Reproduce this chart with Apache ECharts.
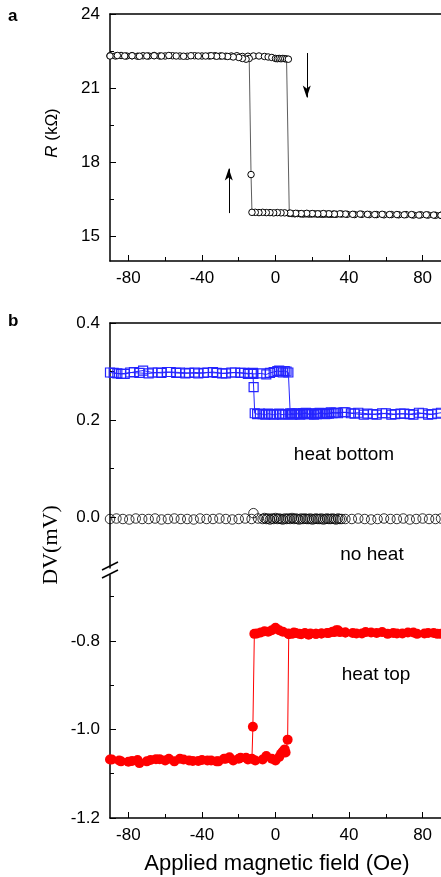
<!DOCTYPE html>
<html><head><meta charset="utf-8">
<script src="https://cdn.jsdelivr.net/npm/echarts@6/dist/echarts.min.js"></script>
<style>html,body{margin:0;padding:0;background:#fff}#c{width:441px;height:877px}</style>
</head><body><div id="c"></div>
<script>
// ---------- Panel a: R (kOhm) vs field ----------
const aFwdX = [-90,-87,-84,-81,-78,-75,-72,-69,-66,-63,-60,-56,-52,-48,-44,-40,-36,-33,-30,-27,-24,-21,-18,-15,-12,-9,-6,
  -4,-2,0,1,2,3,4,5,6,7,7.5,
  9,10.5,12,13.5,15,16.5,18,19.5,21,22.5,24,25.5,27,28.5,30,31.5,33,36,39,43,47,51,55,59,63,67,71,75,79,83,87,90];
const aFwdY = [22.31,22.30,22.32,22.30,22.31,22.29,22.31,22.30,22.32,22.30,22.30,22.31,22.30,22.29,22.31,22.30,22.30,22.31,22.30,22.29,22.30,22.31,22.28,22.29,22.30,22.30,22.28,
  22.26,22.24,22.20,22.19,22.20,22.19,22.20,22.19,22.18,22.17,15.93,
  15.92,15.91,15.92,15.91,15.90,15.91,15.90,15.90,15.91,15.90,15.90,15.89,15.90,15.90,15.89,15.90,15.89,15.90,15.89,15.88,15.89,15.88,15.88,15.87,15.88,15.87,15.88,15.86,15.87,15.86,15.85,15.85];
const aBwdX = [90,86,82,78,74,70,66,62,58,54,50,46,42,38,35,32,29,26,23,20,17,14,11,8,5,3,1,-1,-3,-5,-7,-9,-11,
  -12.8,-13.3,-14.3,-16,-18,-20,-23,-26,-29,-32,-35,-38,-42,-46,-50,-54,-58,-62,-66,-70,-74,-78,-82,-86,-90];
const aBwdY = [15.85,15.86,15.87,15.86,15.88,15.87,15.88,15.88,15.89,15.88,15.89,15.90,15.89,15.90,
  15.91,15.90,15.91,15.92,15.91,15.92,15.93,15.92,15.93,15.94,15.95,
  15.95,15.96,15.95,15.96,15.96,15.97,15.96,15.97,
  15.97,17.5,22.2,
  22.17,22.20,22.24,22.26,22.28,22.30,22.29,22.31,22.30,
  22.30,22.31,22.29,22.30,22.32,22.30,22.31,22.30,22.29,22.31,22.30,22.32,22.30];
const aXMajor = [-80,-40,0,40,80], aXMinor = [-60,-20,20,60];
const aYMajor = [15,18,21,24], aYMinor = [16.5,19.5,22.5];

// ---------- Panel b: heat bottom (blue squares) ----------
const bFwdX = [-90,-86,-82,-77,-72,-67,-62,-57,-52,-47,-42,-37,-32,-27,-22,-17,-12,
  -8,-5,-3,-1,1,2,3,4,5,6,7,8,
  9,10.5,12,13.5,15,16.5,18,19.5,21,22.5,24,26,28,30,32,34,
  38,43,48,53,58,63,68,73,78,83,88];
const bFwdY = [0.298,0.296,0.295,0.299,0.302,0.298,0.297,0.299,0.298,0.297,0.296,0.298,0.297,0.296,0.298,0.297,0.295,
  0.296,0.294,0.297,0.299,0.301,0.302,0.300,0.298,0.301,0.300,0.298,0.214,
  0.213,0.212,0.214,0.211,0.213,0.215,0.212,0.214,0.213,0.212,0.215,0.214,0.213,0.216,0.215,0.214,
  0.216,0.213,0.211,0.212,0.214,0.211,0.213,0.212,0.215,0.211,0.213];
const bBwdX = [90,85,80,75,70,65,60,55,50,45,41,37,33,
  31,29,27,25,23,21,19,17,15,13,11,9,7,
  5,3.5,2,0.5,-1,-2.5,-4,-5.5,-7,-8.5,-10,-11.3,-11.9,-12.3,
  -15,-19,-24,-29,-34,-39,-44,-49,-54,-59,-64,-69,-74,-79,-84,-88];
const bBwdY = [0.215,0.212,0.214,0.211,0.213,0.212,0.214,0.211,0.213,0.215,0.214,0.216,0.215,
  0.214,0.213,0.212,0.214,0.213,0.211,0.212,0.213,0.214,0.212,0.213,0.211,0.212,
  0.212,0.211,0.213,0.212,0.211,0.212,0.213,0.211,0.212,0.213,0.212,0.214,0.268,0.297,
  0.295,0.297,0.298,0.296,0.299,0.297,0.298,0.296,0.297,0.299,0.298,0.296,0.297,0.298,0.295,0.297];

// ---------- Panel b: no heat (black open circles) ----------
const nhX = [-90,-86.5,-83,-79.5,-76,-72.5,-69,-65.5,-62,-58.5,-55,-51.5,-48,-44.5,-41,-37.5,-34,-30.5,-27,-23.5,-20,-16.5,-13,
  -12,-9.5,-7,
  -6,-5,-4,-3,-2,-1,0,1,2,3,4,5,6,7,8,9,10,11,12,13,14,15,16,17,18,19,20,21,22,23,24,25,26,27,28,29,30,31,32,33,34,35,36,
  38,41.5,45,48.5,52,55.5,59,62.5,66,69.5,73,76.5,80,83.5,87,90];
const nhY = [-0.004,-0.003,-0.004,-0.005,-0.003,-0.004,-0.004,-0.003,-0.005,-0.004,-0.003,-0.004,-0.004,-0.005,-0.003,-0.004,-0.004,-0.003,-0.004,-0.005,-0.004,-0.003,-0.004,
  0.008,-0.003,-0.004,
  -0.002,-0.004,-0.003,-0.005,-0.003,-0.004,-0.002,-0.004,-0.003,-0.004,
  -0.005,-0.003,-0.004,-0.003,-0.004,-0.002,-0.004,-0.003,-0.004,-0.005,
  -0.003,-0.004,-0.003,-0.004,-0.004,-0.003,-0.005,-0.004,-0.003,-0.004,
  -0.004,-0.003,-0.005,-0.004,-0.003,-0.004,-0.004,-0.003,-0.004,-0.005,
  -0.003,-0.004,-0.004,
  -0.004,-0.004,-0.003,-0.004,-0.005,-0.004,-0.003,-0.004,-0.004,-0.003,-0.005,-0.004,-0.003,-0.004,-0.004,-0.003];

// ---------- Panel b: heat top (red filled circles) ----------
const tFwdX = [-89,-84,-78,-74,-68,-63,-58,-52,-47,-42,-37,-32,-28,-25,-20,-16,-11,-7,-5,-2,0,
  2,3,4,5,5.5,6.6,7.2,
  9,11,14,18,22,25,29,32,34,38,44,49,55,61,66,72,77,83,88];
const tFwdY = [-1.068,-1.072,-1.071,-1.076,-1.069,-1.067,-1.066,-1.066,-1.070,-1.071,-1.070,-1.072,-1.066,-1.063,-1.066,-1.064,-1.070,-1.068,-1.060,-1.066,-1.070,
  -1.062,-1.055,-1.050,-1.045,-1.052,-1.023,-0.785,
  -0.784,-0.782,-0.785,-0.786,-0.784,-0.783,-0.782,-0.780,-0.776,-0.781,-0.783,-0.780,-0.782,-0.784,-0.783,-0.781,-0.784,-0.782,-0.784];
const tBwdX = [90,86,81,75,69,64,58,52,47,42,38,
  35,33,31,28,25,22,19,16,13,10,7,4,2,0,-2,-4,-6,-8,-10,-11.5,
  -12.3,-12.8,
  -15,-19,-23,-27,-31,-35,-40,-45,-50,-55,-60,-65,-70,-75,-80,-85,-90];
const tBwdY = [-0.784,-0.782,-0.783,-0.781,-0.783,-0.782,-0.780,-0.781,-0.783,-0.782,-0.781,
  -0.780,-0.776,-0.779,-0.782,-0.783,-0.784,-0.783,-0.782,-0.784,-0.781,-0.783,-0.779,-0.776,-0.770,-0.776,-0.779,-0.778,-0.781,-0.783,-0.784,
  -0.994,-1.066,
  -1.068,-1.064,-1.070,-1.066,-1.072,-1.070,-1.069,-1.071,-1.068,-1.072,-1.070,-1.067,-1.072,-1.069,-1.073,-1.070,-1.068];

const bXMajor = [-80,-40,0,40,80], bXMinor = [-60,-20,20,60];
const bUpMajor = [0.0,0.2,0.4], bUpMinor = [0.1,0.3];
const bLoMajor = [-1.2,-1.0,-0.8], bLoMinor = [-1.1,-0.9,-0.7];

function pairs(xs, ys){ return xs.map((x,i)=>[x, ys[i]]); }

const F = '"Liberation Sans", Arial, sans-serif';
const TS = 17;
const BLACK = '#000';
const BLUE = '#2424ff';
const RED = '#ff0000';

function axis(kind, grid, min, max, pos, opts){
  const o = {
    type:'value', gridIndex:grid, min:min, max:max, position:pos,
    splitLine:{show:false},
    axisLine:{show: !!opts.line, onZero:false, lineStyle:{color:BLACK, width:1.5}},
    axisTick:{show: !!opts.ticks, inside:true, length: opts.len || 6, lineStyle:{color:BLACK, width:1}},
    axisLabel:{show: !!opts.labels, color:BLACK, fontFamily:F, fontSize:TS, margin: opts.margin || 9,
      formatter: opts.fmt || (v=>String(v))}
  };
  if (opts.ticks) o.axisTick.customValues = opts.ticks;
  if (opts.labels) o.axisLabel.customValues = opts.labels;
  return o;
}

const fmt1 = v => v.toFixed(1);
const fmt0 = v => String(Math.round(v));

const xAxes = [
  axis('x',0,-90,90,'bottom',{line:true, ticks:aXMajor, labels:aXMajor, len:6, margin:9, fmt:fmt0}),
  axis('x',0,-90,90,'bottom',{ticks:aXMinor, len:4}),
  axis('x',0,-90,90,'top',{line:true}),
  axis('x',1,-90,90,'top',{line:true}),
  axis('x',2,-90,90,'bottom',{line:true, ticks:bXMajor, labels:bXMajor, len:6, margin:9, fmt:fmt0}),
  axis('x',2,-90,90,'bottom',{ticks:bXMinor, len:4})
];
const yAxes = [
  axis('y',0,14,24,'left',{line:true, ticks:aYMajor, labels:aYMajor, len:6, margin:10, fmt:fmt0}),
  axis('y',0,14,24,'left',{ticks:aYMinor, len:4}),
  axis('y',1,-0.105,0.4,'left',{line:true, ticks:bUpMajor, labels:bUpMajor, len:6, margin:10, fmt:fmt1}),
  axis('y',1,-0.105,0.4,'left',{ticks:bUpMinor, len:4}),
  axis('y',2,-1.2,-0.651,'left',{line:true, ticks:bLoMajor, labels:bLoMajor, len:6, margin:10, fmt:fmt1}),
  axis('y',2,-1.2,-0.651,'left',{ticks:bLoMinor, len:4})
];

const openBlack = {color:'#fff', borderColor:BLACK, borderWidth:1};
const option = {
  animation:false,
  backgroundColor:'#fff',
  grid:[
    {left:110, top:14, width:334, height:247},
    {left:110, top:323, width:334, height:245},
    {left:110, top:575, width:334, height:243}
  ],
  xAxis:xAxes,
  yAxis:yAxes,
  series:[
    {type:'line', xAxisIndex:0, yAxisIndex:0, data:pairs(aFwdX,aFwdY), symbol:'circle', symbolSize:6.5, showAllSymbol:true,
      itemStyle:openBlack, lineStyle:{color:'#333', width:0.8}, z:3,
      markLine:{silent:true, symbol:['none','arrow'], symbolSize:[6,12], label:{show:false},
        lineStyle:{color:BLACK, width:1, type:'solid'},
        data:[ [{coord:[17,22.42]},{coord:[17,20.62]}], [{coord:[-25.4,15.94]},{coord:[-25.4,17.74]}] ]}},
    {type:'line', xAxisIndex:0, yAxisIndex:0, data:pairs(aBwdX,aBwdY), symbol:'circle', symbolSize:6.5, showAllSymbol:true,
      itemStyle:openBlack, lineStyle:{color:'#333', width:0.8}, z:3},
    {type:'line', xAxisIndex:3, yAxisIndex:2, data:pairs(bFwdX,bFwdY), symbol:'rect', symbolSize:9, showAllSymbol:true,
      itemStyle:{color:'rgba(255,255,255,0)', borderColor:BLUE, borderWidth:1.2}, lineStyle:{color:BLUE, width:1}},
    {type:'line', xAxisIndex:3, yAxisIndex:2, data:pairs(bBwdX,bBwdY), symbol:'rect', symbolSize:9, showAllSymbol:true,
      itemStyle:{color:'rgba(255,255,255,0)', borderColor:BLUE, borderWidth:1.2}, lineStyle:{color:BLUE, width:1}},
    {type:'scatter', xAxisIndex:3, yAxisIndex:2, data:pairs(nhX,nhY), symbol:'circle', symbolSize:9.5,
      itemStyle:{color:'rgba(255,255,255,0)', borderColor:BLACK, borderWidth:1}},
    {type:'line', xAxisIndex:4, yAxisIndex:4, data:pairs(tFwdX,tFwdY), symbol:'circle', symbolSize:10, showAllSymbol:true,
      itemStyle:{color:RED}, lineStyle:{color:RED, width:1}},
    {type:'line', xAxisIndex:4, yAxisIndex:4, data:pairs(tBwdX,tBwdY), symbol:'circle', symbolSize:10, showAllSymbol:true,
      itemStyle:{color:RED}, lineStyle:{color:RED, width:1}}
  ],
  graphic:[
    {type:'text', x:8, y:8, style:{text:'a', fontFamily:F, fontSize:17, fontWeight:'bold', fill:BLACK}},
    {type:'text', x:8, y:313, style:{text:'b', fontFamily:F, fontSize:17, fontWeight:'bold', fill:BLACK}},
    {type:'text', x:52, y:133, rotation:Math.PI/2,
      style:{text:'{i|R} (kΩ)', fontFamily:F, fontSize:17, fill:BLACK, align:'center', verticalAlign:'middle',
        rich:{i:{fontStyle:'italic', fontFamily:F, fontSize:17, fill:BLACK}}}},
    {type:'text', x:51, y:545, rotation:Math.PI/2,
      style:{text:'DV(mV)', fontFamily:'"Liberation Serif", "Times New Roman", serif', fontSize:22, fill:BLACK, align:'center', verticalAlign:'middle'}},
    {type:'text', x:344, y:455, style:{text:'heat bottom', fontFamily:F, fontSize:19, fill:BLACK, align:'center', verticalAlign:'middle'}},
    {type:'text', x:372, y:555, style:{text:'no heat', fontFamily:F, fontSize:19, fill:BLACK, align:'center', verticalAlign:'middle'}},
    {type:'text', x:376, y:675, style:{text:'heat top', fontFamily:F, fontSize:19, fill:BLACK, align:'center', verticalAlign:'middle'}},
    {type:'text', x:277, y:864, style:{text:'Applied magnetic field (Oe)', fontFamily:F, fontSize:22, fill:BLACK, align:'center', verticalAlign:'middle'}},
    {type:'line', shape:{x1:102, y1:570, x2:118, y2:562}, style:{stroke:BLACK, lineWidth:1.5}},
    {type:'line', shape:{x1:102, y1:578, x2:118, y2:570}, style:{stroke:BLACK, lineWidth:1.5}}
  ]
};
const chart = echarts.init(document.getElementById('c'));
chart.setOption(option);
</script>
</body></html>
